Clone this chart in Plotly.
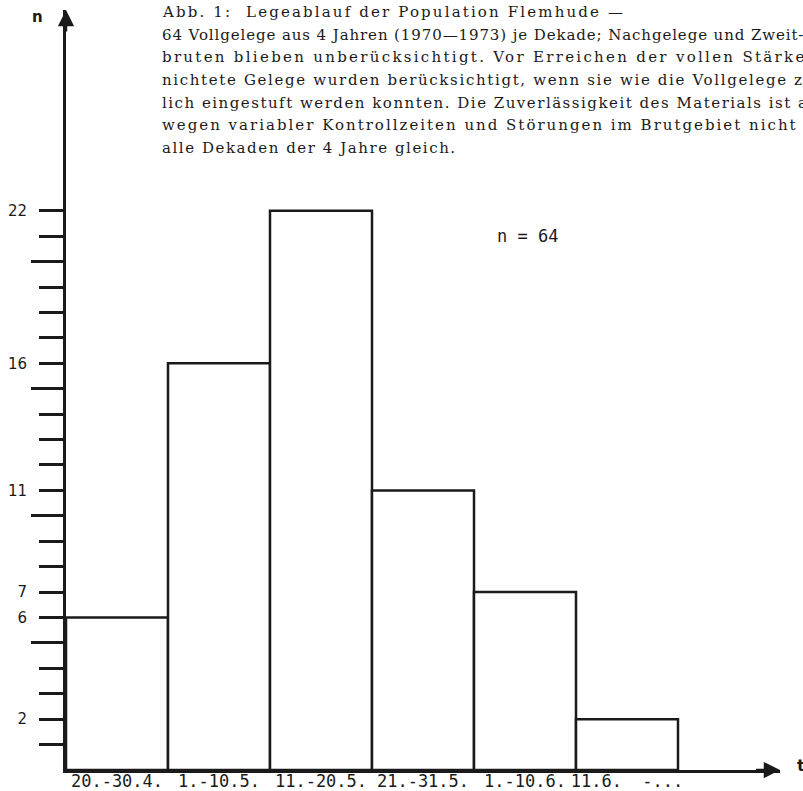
import json
import plotly.graph_objects as go

# ---- data ----
periods = ["20.-30.4.", "1.-10.5.", "11.-20.5.", "21.-31.5.", "1.-10.6.", "11.6.\u00a0\u00a0-..."]
counts = [6, 16, 22, 11, 7, 2]
y_labeled = {2: "2", 6: "6", 7: "7", 11: "11", 16: "16", 22: "22"}
y_minor_max = 22
y_long_ticks = [5, 10, 15, 20]
caption_lines = [
    "Abb. 1:\u00a0\u00a0Legeablauf der Population Flemhude \u2014",
    "64 Vollgelege aus 4 Jahren (1970\u20141973) je Dekade; Nachgelege und Zweit-",
    "bruten blieben unber\u00fccksichtigt. Vor Erreichen der vollen St\u00e4rke ver-",
    "nichtete Gelege wurden ber\u00fccksichtigt, wenn sie wie die Vollgelege zeit-",
    "lich eingestuft werden konnten. Die Zuverl\u00e4ssigkeit des Materials ist aber",
    "wegen variabler Kontrollzeiten und St\u00f6rungen im Brutgebiet nicht f\u00fcr",
    "alle Dekaden der 4 Jahre gleich.",
]
n_total = 64

# ---- styling ----
caption_spacing = [2.15, 0.9, 2.3, 1.65, 1.5, 2.0, 1.55]  # px letter spacing per printed line
W, H = 803, 791
ML, MR, MT, MB = 66, 23, 10, 21
XMAX, YMAX = 7.0, 29.9
PW, PH = W - ML - MR, H - MT - MB


def px_to_paper(px, py):
    return (px - ML) / PW, (H - MB - py) / PH


ink = "#1a1a1a"
centers = [i + 0.5 for i in range(len(counts))]

fig = go.Figure()
fig.add_trace(go.Bar(
    x=centers, y=counts, width=1.0,
    marker=dict(color="white", line=dict(color=ink, width=2.5)),
    hoverinfo="skip", showlegend=False,
))
fig.add_trace(go.Scatter(x=[None], y=[None], yaxis="y2", showlegend=False, hoverinfo="skip"))

yt = list(range(1, y_minor_max + 1))
ytt = [y_labeled.get(v, "") for v in yt]

fig.update_layout(
    width=W, height=H,
    margin=dict(l=ML, r=MR, t=MT, b=MB, pad=0, autoexpand=False),
    paper_bgcolor="white", plot_bgcolor="white",
    bargap=0,
    xaxis=dict(
        range=[0, XMAX], showgrid=False, zeroline=False, automargin=False,
        showline=True, linewidth=3, linecolor=ink,
        tickvals=centers, ticktext=periods, ticks="", ticklen=0,
        ticklabelstandoff=-6,
        tickfont=dict(family="DejaVu Sans Mono", size=17, color=ink),
    ),
    yaxis=dict(
        range=[0, YMAX], showgrid=False, zeroline=False, automargin=False,
        showline=True, linewidth=3, linecolor=ink,
        tickvals=yt, ticktext=ytt, ticks="outside", ticklen=24, tickwidth=3, tickcolor=ink,
        ticklabelstandoff=9,
        tickfont=dict(family="DejaVu Sans", size=15, color=ink),
    ),
    yaxis2=dict(
        range=[0, YMAX], overlaying="y", side="left", anchor="x", automargin=False,
        showgrid=False, zeroline=False, showline=False,
        tickvals=y_long_ticks, ticks="outside", ticklen=34, tickwidth=3, tickcolor=ink,
        showticklabels=False,
    ),
)

# axis arrowheads (short shafts so only the heads add to the axis lines)
fig.add_annotation(x=0, y=YMAX, ax=0, ay=YMAX - 0.9, xref="x", yref="y", axref="x", ayref="y",
                   text="", showarrow=True, arrowhead=2, arrowsize=1.3, arrowwidth=2.5, arrowcolor=ink)
fig.add_annotation(x=XMAX, y=0, ax=XMAX - 0.25, ay=0, xref="x", yref="y", axref="x", ayref="y",
                   text="", showarrow=True, arrowhead=2, arrowsize=1.3, arrowwidth=2.5, arrowcolor=ink)

# axis letters
x, y = px_to_paper(37, 17)
fig.add_annotation(x=x, y=y, xref="paper", yref="paper", text="<b>n</b>", showarrow=False,
                   font=dict(family="DejaVu Sans", size=15, color=ink), xanchor="center", yanchor="middle")
x, y = px_to_paper(795, 765)
fig.add_annotation(x=x, y=y, xref="paper", yref="paper", text="<b>t</b>", showarrow=False,
                   font=dict(family="DejaVu Sans", size=16, color=ink), xanchor="left", yanchor="middle")

# n = 64
x, y = px_to_paper(527, 236)
fig.add_annotation(x=x, y=y, xref="paper", yref="paper", text=f"n = {n_total}", showarrow=False,
                   font=dict(family="DejaVu Sans Mono", size=17, color=ink), xanchor="center", yanchor="middle")

# caption
for i, line in enumerate(caption_lines):
    x, y = px_to_paper(160, 12 + i * 22.7)
    fig.add_annotation(x=x, y=y, xref="paper", yref="paper", text=line, showarrow=False,
                       font=dict(family="DejaVu Serif", size=15, color=ink),
                       xanchor="left", yanchor="middle", align="left")

spacing_map = json.dumps({line: sp for line, sp in zip(caption_lines, caption_spacing)})
post = """
document.body.style.margin = '0';
var sp = %s;
document.querySelectorAll('.annotation-text').forEach(function(el){
  var t = el.textContent;
  if (sp.hasOwnProperty(t)) { el.style.letterSpacing = sp[t] + 'px'; }
});
""" % spacing_map
fig.write_html("out.html", post_script=post, config={"displayModeBar": False, "staticPlot": True})
